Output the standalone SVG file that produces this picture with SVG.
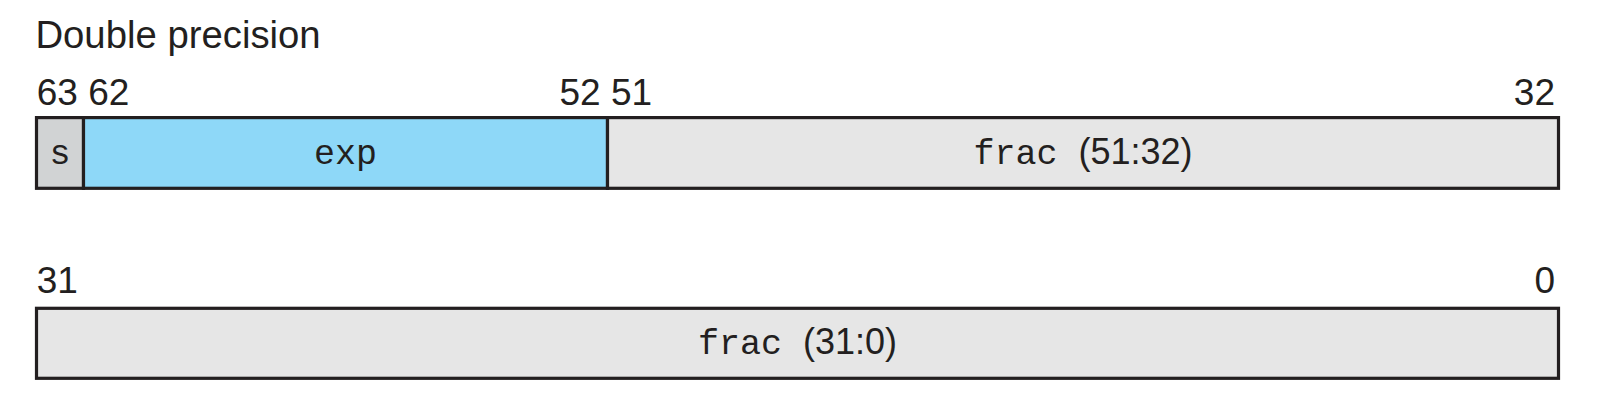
<svg xmlns="http://www.w3.org/2000/svg" width="1601" height="406" viewBox="0 0 1601 406">
<style>
.box{stroke:#231f20;stroke-width:3.2}
.lbl{font-family:"Liberation Sans",Arial,sans-serif;font-size:37px;fill:#231f20}
.title{font-size:38.3px}
.in{font-size:35px;fill:#231f20;text-anchor:middle}
.mono{font-family:"Liberation Mono","Courier New",monospace;font-size:35px}
.sans{font-family:"Liberation Sans",Arial,sans-serif;font-size:36px}
</style>
<rect width="1601" height="406" fill="#ffffff"/>
<text class="lbl title" x="35.4" y="48.3">Double precision</text>
<g id="labels">
<text class="lbl" x="36.8" y="105">63 62</text>
<text class="lbl" x="559.5" y="105">52 51</text>
<text class="lbl" x="1555" y="105" text-anchor="end">32</text>
<text class="lbl" x="36.8" y="293.3">31</text>
<text class="lbl" x="1555" y="293.3" text-anchor="end">0</text>
</g>
<g id="sign">
<rect class="box" x="36.5" y="117.6" width="47" height="70.7" fill="#d1d3d4"/>
<text class="in mono" x="60" y="164">s</text>
</g>
<g id="exp">
<rect class="box" x="83.5" y="117.6" width="524" height="70.7" fill="#8ed8f8"/>
<text class="in mono" x="345.5" y="164">exp</text>
</g>
<g id="frac_hi">
<rect class="box" x="607.5" y="117.6" width="951" height="70.7" fill="#e6e6e6"/>
<text class="in" x="1083" y="164"><tspan class="mono">frac </tspan><tspan class="sans">(51:32)</tspan></text>
</g>
<g id="frac_lo">
<rect class="box" x="36.5" y="308.3" width="1522" height="70" fill="#e6e6e6"/>
<text class="in" x="797.5" y="353.8"><tspan class="mono">frac </tspan><tspan class="sans">(31:0)</tspan></text>
</g>
<g id="connectors"/>
</svg>
